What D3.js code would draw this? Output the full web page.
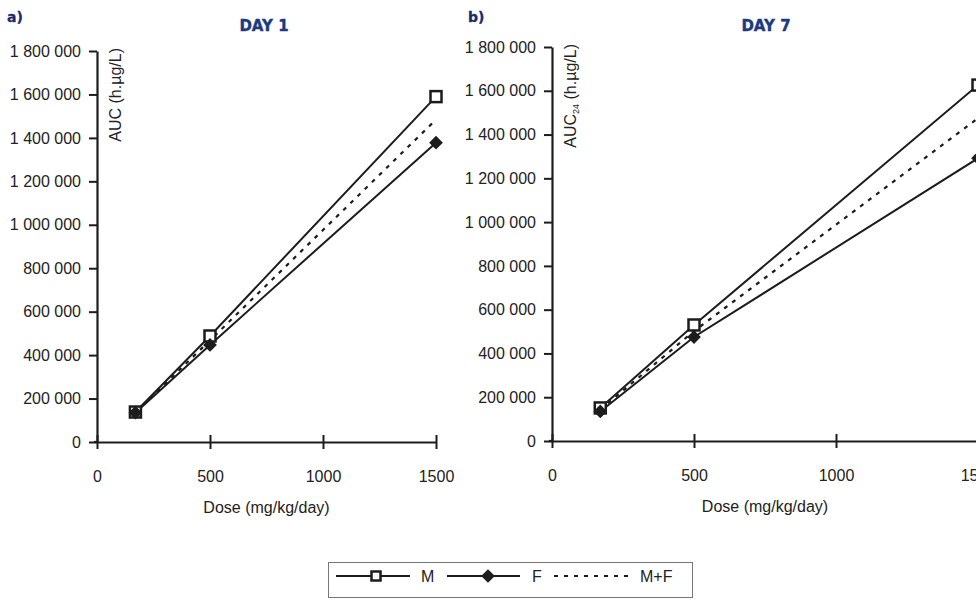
<!DOCTYPE html>
<html><head><meta charset="utf-8">
<script src="https://cdn.jsdelivr.net/npm/d3@7"></script>
<style>body{margin:0;background:#fff;} svg{display:block;font-family:"Liberation Sans",Arial,sans-serif;}</style>
</head><body>
<svg id="c" width="976" height="604"></svg>
<script>
const doses = [170, 500, 1500];
const day1M = [138000, 488000, 1590000];
const day1F = [135000, 447000, 1378000];
const day1MF = [136000, 468000, 1484000];
const day7M = [151000, 530000, 1626000];
const day7F = [135000, 475000, 1292000];
const day7MF = [143000, 502000, 1475000];
const yTicks = [0,200000,400000,600000,800000,1000000,1200000,1400000,1600000,1800000];
const xTicks = [0,500,1000,1500];
const panels = [
  {tag:"a)", title:"DAY 1", M:day1M, F:day1F, MF:day1MF, x0:97, x1:436, y0:442, y1:51, tagX:7, titleX:264, ylab:["AUC",""," (h.µg/L)"]},
  {tag:"b)", title:"DAY 7", M:day7M, F:day7F, MF:day7MF, x0:552, x1:978, y0:441, y1:47, tagX:468, titleX:766, ylab:["AUC","24"," (h.µg/L)"]}
];
const svg = d3.select("#c");
const ink = "#1c1c1c";
const txt = "#222";
const fmt = v => v===0 ? "0" : d3.format(",")(v).replace(/,/g," ");

panels.forEach(p=>{
  const x = d3.scaleLinear().domain([0,1500]).range([p.x0,p.x1]);
  const y = d3.scaleLinear().domain([0,1800000]).range([p.y0,p.y1]);
  const g = svg.append("g");
  g.append("text").attr("x",p.tagX).attr("y",22).attr("font-family","'DejaVu Sans',sans-serif").attr("font-weight","bold").attr("font-size",14).attr("fill","#1b2a6b").attr("stroke","#1b2a6b").attr("stroke-width",0.3).text(p.tag);
  g.append("text").attr("x",p.titleX).attr("y",31).attr("text-anchor","middle").attr("font-family","'DejaVu Sans',sans-serif").attr("font-weight","bold").attr("font-size",15).attr("fill","#1b3a82").attr("stroke","#1b3a82").attr("stroke-width",0.4).text(p.title);
  const ya = g.append("g").attr("transform",`translate(${p.x0},0)`).call(d3.axisLeft(y).tickValues(yTicks).tickFormat(fmt).tickSize(8).tickSizeOuter(0));
  const xa = g.append("g").attr("transform",`translate(0,${p.y0})`).call(d3.axisBottom(x).tickValues(xTicks).tickFormat(d3.format("d")).tickSize(6).tickSizeOuter(0));
  [ya,xa].forEach(a=>{
    a.attr("font-size",16).attr("font-family","'Liberation Sans',Arial,sans-serif");
    a.select(".domain").attr("stroke",ink).attr("stroke-width",2.2);
    a.selectAll(".tick line").attr("stroke",ink).attr("stroke-width",2);
    a.selectAll("text").attr("font-size",16).attr("fill",txt);
  });
  ya.selectAll(".tick text").attr("x",-16);
  xa.selectAll(".tick line").attr("y1",-7).attr("y2",7);
  xa.selectAll(".tick text").attr("y",40).attr("dy",0);
  g.append("line").attr("x1",p.x0-3).attr("x2",p.x0).attr("y1",p.y0).attr("y2",p.y0).attr("stroke",ink).attr("stroke-width",2.2);
  g.append("text").attr("x",(p.x0+p.x1)/2).attr("y",p.y0+71).attr("text-anchor","middle").attr("font-size",16).attr("fill",txt).text("Dose (mg/kg/day)");
  const yl = g.append("text").attr("transform",`translate(${p.x0+24},${p.y1-3}) rotate(-90)`).attr("text-anchor","end").attr("font-size",16).attr("fill",txt);
  yl.append("tspan").text(p.ylab[0]);
  if(p.ylab[1]) yl.append("tspan").attr("font-size",9).attr("dy",3).text(p.ylab[1]);
  yl.append("tspan").attr("dy",p.ylab[1]?-3:0).text(p.ylab[2]);
  const line = d3.line().x((d,i)=>x(doses[i])).y(d=>y(d));
  g.append("path").attr("d",line(p.MF)).attr("fill","none").attr("stroke",ink).attr("stroke-width",2.2).attr("stroke-dasharray","4,6");
  g.append("path").attr("d",line(p.M)).attr("fill","none").attr("stroke",ink).attr("stroke-width",2);
  g.append("path").attr("d",line(p.F)).attr("fill","none").attr("stroke",ink).attr("stroke-width",2);
  g.selectAll(".m").data(p.M).join("rect").attr("x",(d,i)=>x(doses[i])-5.5).attr("y",d=>y(d)-5.5).attr("width",11).attr("height",11).attr("fill","#fff").attr("stroke",ink).attr("stroke-width",2.5);
  const dia = d3.symbol().type(d3.symbolDiamond2).size(120);
  g.selectAll(".f").data(p.F).join("path").attr("d",dia).attr("transform",(d,i)=>`translate(${x(doses[i])},${y(d)})`).attr("fill",ink);
});

// legend
const lg = svg.append("g");
lg.append("rect").attr("x",328.5).attr("y",562.5).attr("width",364).attr("height",35).attr("fill","#fff").attr("stroke","#777").attr("stroke-width",1);
const ly = 576;
const legend = [
  {label:"M", x1:336, x2:410, mx:376, type:"M", tx:421},
  {label:"F", x1:447, x2:520, mx:488, type:"F", tx:532},
  {label:"M+F", x1:554, x2:630, mx:null, type:"MF", tx:640}
];
legend.forEach(l=>{
  lg.append("line").attr("x1",l.x1).attr("x2",l.x2).attr("y1",ly).attr("y2",ly).attr("stroke",ink).attr("stroke-width",2).attr("stroke-dasharray",l.type==="MF"?"4,6":null);
  if(l.type==="M") lg.append("rect").attr("x",l.mx-4.5).attr("y",ly-4.5).attr("width",9).attr("height",9).attr("fill","#fff").attr("stroke",ink).attr("stroke-width",2.5);
  if(l.type==="F") lg.append("path").attr("d",d3.symbol().type(d3.symbolDiamond2).size(120)).attr("transform",`translate(${l.mx},${ly})`).attr("fill",ink);
  lg.append("text").attr("x",l.tx).attr("y",ly+6).attr("font-size",16).attr("fill",txt).text(l.label);
});
</script>
</body></html>
